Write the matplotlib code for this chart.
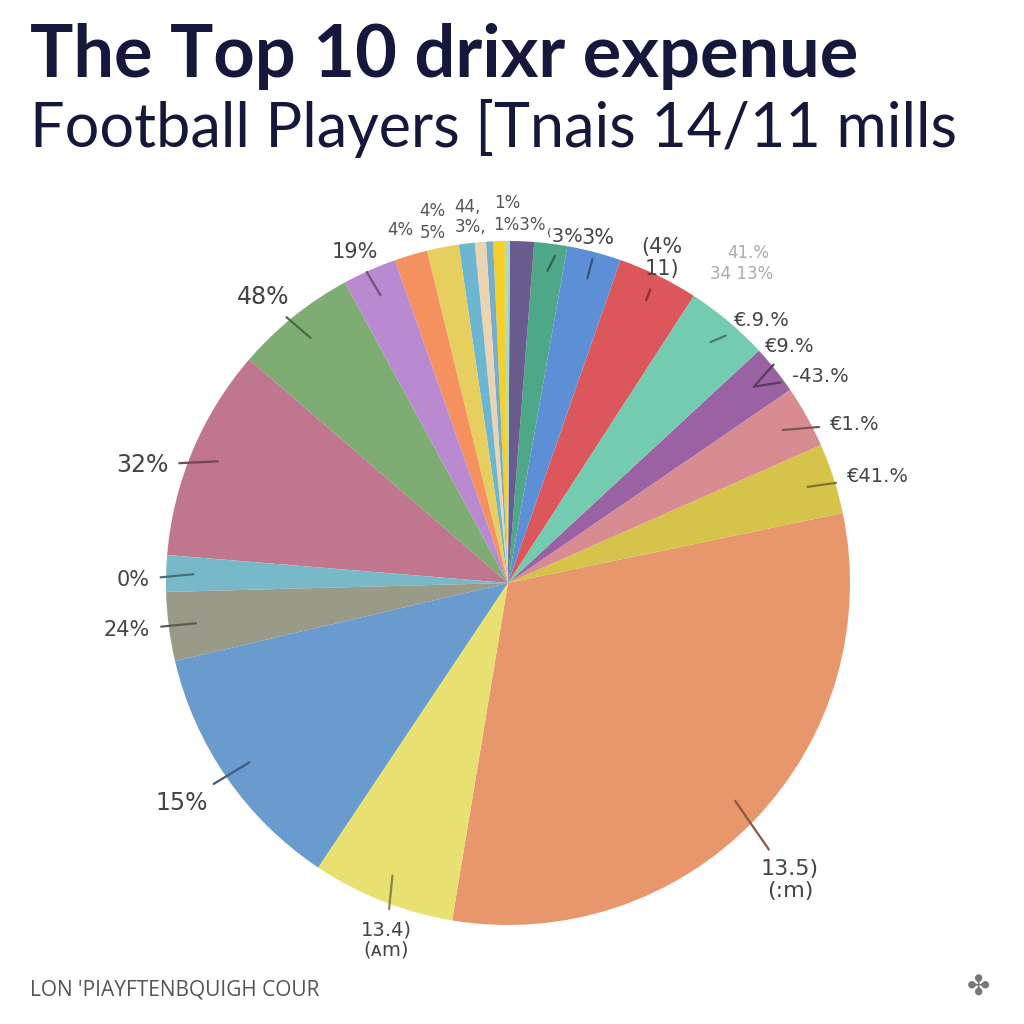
import numpy as np
import matplotlib
matplotlib.use("Agg")
import matplotlib.pyplot as plt
from matplotlib.colors import to_rgb

# slice shares in degrees, counter-clockwise starting from the big orange slice
shares = [111.2, 12.0, 10.6, 8.4, 14.3, 13.7, 9.2, 5.6, 4.1, 0.8, 2.0, 1.2,
          1.9, 2.7, 5.4, 5.6, 9.2, 20.7, 36.1, 6.2, 11.7, 43.1, 24.3]
colors = ["#E8966B", "#D6C34A", "#D88B90", "#9A62A2", "#74CCB0", "#DC575B",
          "#5C8FD6", "#4FA78A", "#6A5B8D", "#A9D9C8", "#F3D12A", "#78AECA",
          "#EBD4B2", "#6CB6CF", "#E6CF5E", "#F5915F", "#BA8AD0", "#7EAD73",
          "#C17690", "#78B9C9", "#9A9A89", "#6A9BCE", "#E8E171"]

# labels with a leader line: slice index, text, label pixel position, size
label_slice = [16, 17, 18, 19, 20, 21, 22, 0, 1, 2, 3, 3, 4, 5, 6, 7]
label_text = ["19%", "48%", "32%", "0%", "24%", "15%", "13.4)\n(ᴀm)", "13.5)\n(:m)",
              "€41.%", "€1.%", "-43.%", "€9.%", "€.9.%", "(4%\n11)", "3%", "⁽3%"]
label_pos = [(355, 252), (263, 297), (142, 465), (133, 580), (127, 630),
             (182, 803), (386, 940), (790, 880), (878, 477), (855, 424),
             (820, 376), (790, 346), (762, 320), (662, 258), (598, 238), (565, 236)]
label_size = [15, 17, 17, 15, 15, 17, 14, 16, 14, 14, 14, 14, 14, 15, 15, 14]

# crowded labels above the thin top slices (no leaders)
top_text = ["4%", "44,", "1%", "4%", "5%", "3%,", "1%3%", "41.%", "34 13%"]
top_pos = [(432, 211), (467, 207), (507, 203), (400, 230), (433, 233),
           (470, 227), (519, 225), (748, 253), (742, 274)]

CX, CY, R = 508, 583, 342


def px(x, y):
    return (x - CX) / R, (CY - y) / R


fig = plt.figure(figsize=(10.24, 10.24), dpi=100)
fig.patch.set_facecolor("white")
ax = fig.add_axes([0, 0, 1, 1])

wedges, _ = ax.pie(shares, colors=colors, startangle=-99.4, counterclock=True,
                   radius=1.0, wedgeprops=dict(linewidth=0))

ax.set_xlim(px(0, 0)[0], px(1024, 0)[0])
ax.set_ylim(px(0, 1024)[1], px(0, 0)[1])
ax.set_aspect("equal")
ax.axis("off")

for i, txt, pos, fs in zip(label_slice, label_text, label_pos, label_size):
    w = wedges[i]
    mid = np.deg2rad((w.theta1 + w.theta2) / 2)
    tip = (0.92 * np.cos(mid), 0.92 * np.sin(mid))
    dark = tuple(c * 0.6 for c in to_rgb(colors[i]))
    ax.annotate(txt, xy=tip, xytext=px(*pos), ha="center", va="center",
                fontsize=fs, color="#444444", family="DejaVu Sans",
                linespacing=1.1,
                arrowprops=dict(arrowstyle="-", color=dark, lw=1.6,
                                shrinkA=6, shrinkB=0))

for txt, pos in zip(top_text, top_pos):
    faded = "41" in txt or "34" in txt
    ax.text(*px(*pos), txt, ha="center", va="center", fontsize=12,
            color="#AAAAAA" if faded else "#555555", family="DejaVu Sans")

fig.text(30 / 1024, 1 - 57 / 1024, "The Top 10 drixr expenue", fontsize=52,
         fontweight="bold", color="#15173B", family="Lato", va="center", ha="left")
fig.text(30 / 1024, 1 - 128 / 1024, "Football Players [Tnais 14/11 mills",
         fontsize=44, fontweight="normal", color="#15173B", family="Lato",
         va="center", ha="left")
fig.text(30 / 1024, 1 - 990 / 1024, "LON 'PIAYFTENBQUIGH COUR", fontsize=15,
         color="#555555", family="Open Sans", va="center", ha="left")
fig.text(978 / 1024, 1 - 988 / 1024, "✤", fontsize=20, color="#777777",
         family="DejaVu Sans", va="center", ha="center")

fig.savefig("out.png", dpi=100, facecolor="white")
